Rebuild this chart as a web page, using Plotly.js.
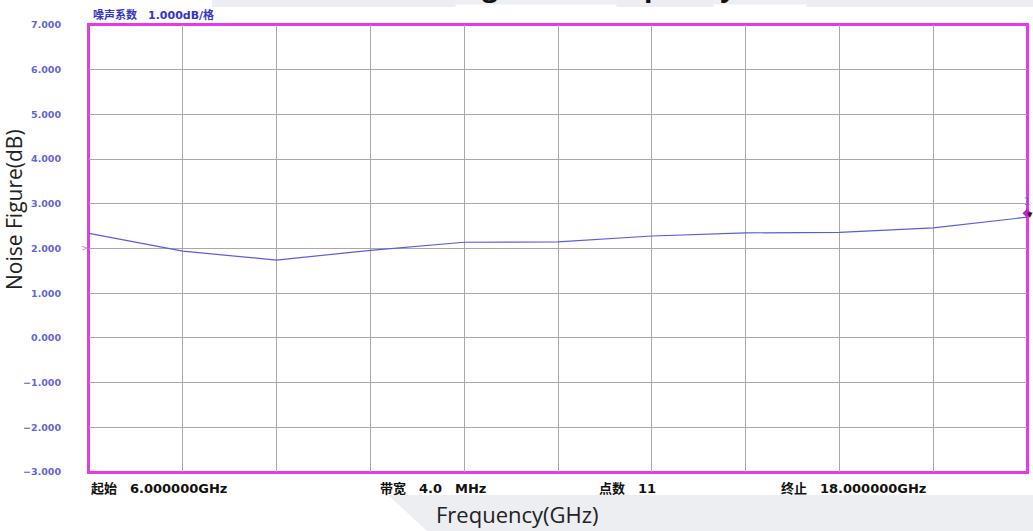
<!DOCTYPE html>
<html>
<head>
<meta charset="utf-8">
<script src="https://cdn.plot.ly/plotly-3.0.1.min.js"></script>
<style>html,body{margin:0;padding:0;background:#fff;}#chart{width:1033px;height:531px;}</style>
</head>
<body>
<div id="chart"></div>
<script>
// ---- data ----
const freqGHz = [6.0, 7.2, 8.4, 9.6, 10.8, 12.0, 13.2, 14.4, 15.6, 16.8, 18.0];
const noiseFigure = [2.34, 1.94, 1.74, 1.96, 2.14, 2.15, 2.28, 2.35, 2.36, 2.46, 2.70];
const markerFreq = [18.0];
const markerNF = [2.79];
const markerLabel = ['1'];
const yTicks = [7, 6, 5, 4, 3, 2, 1, 0, -1, -2, -3];
const headerText = '噪声系数　1.000dB/格';
const footerTexts = ['起始　6.000000GHz', '带宽　4.0　MHz', '点数　11', '终止　18.000000GHz'];
const titleText = 'Noise Figure vs Frequency';
const xTitle = 'Frequency(GHz)';
const yTitle = 'Noise Figure(dB)';

// ---- layout helpers (pixel -> paper) ----
const L = 89, R = 1027, T = 25, B = 472;
const xp = px => (px - L) / (R - L);
const yp = py => (B - py) / (B - T);

const traces = [
  {x: freqGHz, y: noiseFigure, type: 'scatter', mode: 'lines',
   line: {color: '#5b5be0', width: 1.2}, hoverinfo: 'x+y'},
  {x: markerFreq, y: markerNF, type: 'scatter', mode: 'markers+text',
   text: markerLabel, textposition: 'top center', cliponaxis: false,
   textfont: {color: '#6a6ae0', size: 10, family: 'DejaVu Sans'},
   marker: {symbol: 'diamond', size: 7, color: '#c020d0'}}
];

const footerX = [89, 378, 597, 779];
const annotations = [
  {xref: 'paper', yref: 'paper', x: xp(554), y: yp(6), xanchor: 'center', yanchor: 'bottom',
   text: '<b>' + titleText + '</b>', showarrow: false,
   font: {family: 'Open Sans, sans-serif', size: 28, color: '#111'}},
  {xref: 'paper', yref: 'paper', x: xp(536), y: yp(4), xanchor: 'center', yanchor: 'top',
   text: ' ', showarrow: false, bgcolor: '#ffffff', width: 160, height: 10, borderpad: 0},
  {xref: 'paper', yref: 'paper', x: xp(760), y: yp(4), xanchor: 'center', yanchor: 'top',
   text: ' ', showarrow: false, bgcolor: '#ffffff', width: 92, height: 10, borderpad: 0},
  {xref: 'paper', yref: 'paper', x: xp(91), y: yp(15), xanchor: 'left', yanchor: 'middle',
   text: '<b>' + headerText + '</b>', showarrow: false,
   font: {family: 'DejaVu Sans, Noto Sans CJK SC', size: 11, color: '#3535c8'}},
  {xref: 'paper', yref: 'y', x: xp(84), y: 2, xanchor: 'center', yanchor: 'middle',
   text: '>', showarrow: false, font: {family: 'DejaVu Sans', size: 8, color: '#9090e0'}},
  {xref: 'paper', yref: 'y', x: xp(1030), y: markerNF[0] - 0.03, xanchor: 'center', yanchor: 'middle',
   text: '▾', showarrow: false, font: {family: 'DejaVu Sans', size: 11, color: '#222'}},
  {xref: 'paper', yref: 'paper', x: xp(517), y: yp(514), xanchor: 'center', yanchor: 'middle',
   text: xTitle, showarrow: false,
   font: {family: 'Open Sans, sans-serif', size: 22, color: '#222'}},
  {xref: 'paper', yref: 'paper', x: xp(14), y: yp(210), xanchor: 'center', yanchor: 'middle',
   text: yTitle, textangle: -90, showarrow: false,
   font: {family: 'Open Sans, sans-serif', size: 21, color: '#222'}}
];
footerTexts.forEach((t, i) => annotations.push({
  xref: 'paper', yref: 'paper', x: xp(footerX[i]), y: yp(489), xanchor: 'left', yanchor: 'middle',
  text: '<b>' + t + '</b>', showarrow: false,
  font: {family: 'DejaVu Sans, Noto Sans CJK SC', size: 13, color: '#111'}
}));

const shapes = [
  {type: 'rect', xref: 'paper', yref: 'paper', x0: xp(212), x1: xp(1033), y0: yp(7), y1: yp(0),
   fillcolor: '#eceef2', line: {width: 0}, layer: 'below'},
  {type: 'path', xref: 'paper', yref: 'paper',
   path: 'M ' + xp(388) + ' ' + yp(495) + ' L ' + xp(1033) + ' ' + yp(495) + ' L ' + xp(1033) + ' ' + yp(531) +
         ' L ' + xp(427) + ' ' + yp(531) + ' Z',
   fillcolor: '#eceef2', line: {width: 0}, layer: 'below'},
  {type: 'rect', xref: 'paper', yref: 'paper', x0: 0, x1: 1, y0: 0, y1: 1,
   fillcolor: '#ffffff', line: {color: '#e63ae6', width: 2}, layer: 'below'}
];

const layout = {
  width: 1033, height: 531,
  margin: {l: L, r: 1033 - R, t: T, b: 531 - B, pad: 0},
  paper_bgcolor: 'rgba(0,0,0,0)', plot_bgcolor: 'rgba(0,0,0,0)',
  showlegend: false,
  xaxis: {range: [6, 18], dtick: 1.2, tick0: 6, showticklabels: false, ticks: '',
          showgrid: true, gridcolor: '#a8a8a8', gridwidth: 1, zeroline: false,
          showline: true, linecolor: '#e63ae6', linewidth: 2, mirror: true, layer: 'below traces'},
  yaxis: {range: [-3, 7], tickvals: yTicks, tickformat: '.3f', ticks: '',
          ticklabelstandoff: 24,
          tickfont: {family: 'DejaVu Sans', size: 9.5, color: '#6464d8', weight: 'bold'},
          showgrid: true, gridcolor: '#a8a8a8', gridwidth: 1, zeroline: false,
          showline: true, linecolor: '#e63ae6', linewidth: 2, mirror: true, layer: 'below traces'},
  annotations: annotations,
  shapes: shapes
};

Plotly.newPlot('chart', traces, layout, {displayModeBar: false, staticPlot: true});
</script>
</body>
</html>
